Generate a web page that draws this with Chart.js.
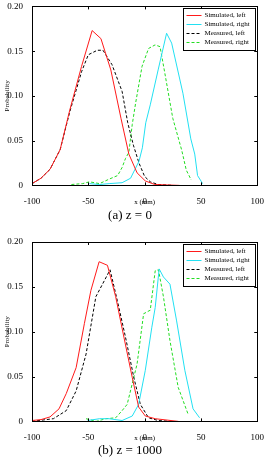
<!DOCTYPE html>
<html>
<head>
<meta charset="utf-8">
<script src="https://cdn.jsdelivr.net/npm/chart.js@4"></script>
<style>
  html, body { margin: 0; padding: 0; background: #fff; overflow: hidden; }
  .panel { position: absolute; left: 0; width: 267px; height: 228px; }
</style>
</head>
<body>
<div class="panel" style="top:0"><canvas id="chartA" width="267" height="228"></canvas></div>
<div class="panel" style="top:230px"><canvas id="chartB" width="267" height="228"></canvas></div>
<script>
// ejes compartidos
const xTicks = [-100, -50, 0, 50, 100];
const yTicks = [0, 0.05, 0.1, 0.15, 0.2];
const legendLabels = ['Simulated, left', 'Simulated, right', 'Measured, left', 'Measured, right'];

// panel (a)
const redAX = [-100, -92, -84, -75, -66.5, -56, -46.6, -38.8, -30, -21, -14, -6.7, 0.6, 9, 20, 31];
const redAY = [0.002, 0.008, 0.018, 0.040, 0.084, 0.133, 0.173, 0.164, 0.129, 0.075, 0.035, 0.014, 0.005, 0.001, 0.0005, 0];
const cyanAX = [-49, -40, -31.5, -20, -12.5, -5, -2, 1, 5, 12, 19.5, 24, 34, 41, 44.5, 47, 51.5];
const cyanAY = [0.002, 0.001, 0.002, 0.003, 0.008, 0.027, 0.042, 0.07, 0.09, 0.129, 0.170, 0.159, 0.103, 0.052, 0.035, 0.011, 0.002];
const blackAX = [-100, -92, -84, -75, -66.5, -56, -50, -42, -37, -29, -20, -15, -10, -5, 0, 5, 12, 25];
const blackAY = [0.002, 0.008, 0.018, 0.040, 0.082, 0.127, 0.146, 0.151, 0.151, 0.135, 0.105, 0.07, 0.045, 0.025, 0.01, 0.004, 0.001, 0];
const greenAX = [-65, -55, -49, -40, -31.5, -24, -20, -17, -14, -11, -8, -2.3, 3.5, 9.3, 13.7, 18, 25, 33, 37, 41.4];
const greenAY = [0.001, 0.002, 0.004, 0.002, 0.007, 0.011, 0.02, 0.03, 0.037, 0.068, 0.092, 0.133, 0.153, 0.157, 0.155, 0.125, 0.075, 0.039, 0.017, 0.006];

// panel (b)
const redBX = [-100, -92, -84, -76, -69.6, -60.8, -53.5, -47.7, -40.4, -33, -25.7, -18.4, -11, -5.3, 0.6, 9.4, 30];
const redBY = [0.001, 0.002, 0.005, 0.014, 0.031, 0.060, 0.109, 0.146, 0.178, 0.174, 0.139, 0.094, 0.049, 0.016, 0.006, 0.003, 0];
const cyanBX = [-50.6, -40, -31.6, -20, -11, -5.3, 0.6, 6.4, 9.4, 12.9, 16.7, 22.5, 28.4, 35.7, 43, 48.8];
const cyanBY = [0.001, 0.003, 0.003, 0.001, 0.006, 0.019, 0.057, 0.105, 0.127, 0.170, 0.161, 0.153, 0.112, 0.057, 0.014, 0.004];
const blackBX = [-100, -81, -69.6, -60.8, -52, -43.3, -37.4, -30.7, -24.3, -17, -9.6, -3.8, 3.5, 12, 24];
const blackBY = [0, 0.003, 0.012, 0.034, 0.075, 0.139, 0.153, 0.169, 0.135, 0.094, 0.049, 0.019, 0.004, 0.001, 0];
const greenBX = [-52, -43, -34.5, -25.7, -20, -15.5, -11, -6.7, -0.9, 5, 9.4, 12.3, 16.7, 22.5, 29.8, 38.6];
const greenBY = [0.003, 0, 0.003, 0.004, 0.012, 0.019, 0.042, 0.064, 0.12, 0.124, 0.168, 0.169, 0.139, 0.090, 0.038, 0.008];

Chart.defaults.font.family = '"Liberation Serif", "DejaVu Serif", serif';
Chart.defaults.color = '#000';

const pts = (xs, ys) => xs.map((x, i) => ({ x: x, y: ys[i] }));

/* Marco estilo MATLAB: caja, marcas hacia dentro y leyenda dentro del área */
const matlabBox = {
  id: 'matlabBox',
  afterDraw(chart) {
    const { ctx, chartArea: a, scales } = chart;
    ctx.save();
    ctx.strokeStyle = '#000';
    ctx.lineWidth = 1;
    ctx.strokeRect(Math.round(a.left) + 0.5, Math.round(a.top) + 0.5, Math.round(a.width), Math.round(a.height));
    ctx.beginPath();
    xTicks.forEach(v => {
      const px = Math.round(scales.x.getPixelForValue(v)) + 0.5;
      ctx.moveTo(px, a.bottom); ctx.lineTo(px, a.bottom - 3);
      ctx.moveTo(px, a.top); ctx.lineTo(px, a.top + 3);
    });
    yTicks.forEach(v => {
      const py = Math.round(scales.y.getPixelForValue(v)) + 0.5;
      ctx.moveTo(a.left, py); ctx.lineTo(a.left + 3, py);
      ctx.moveTo(a.right, py); ctx.lineTo(a.right - 3, py);
    });
    ctx.stroke();

    // leyenda
    const w = 72, h = 42;
    const bx = Math.round(a.right - w - 2) + 0.5, by = Math.round(a.top + 2) + 0.5;
    ctx.fillStyle = '#fff';
    ctx.fillRect(bx, by, w, h);
    ctx.strokeRect(bx, by, w, h);
    ctx.font = '7px "Liberation Serif", serif';
    ctx.textBaseline = 'middle';
    chart.data.datasets.forEach((ds, i) => {
      const y = by + 7 + i * 9;
      ctx.beginPath();
      ctx.strokeStyle = ds.borderColor;
      ctx.setLineDash(ds.borderDash || []);
      ctx.moveTo(bx + 3, y); ctx.lineTo(bx + 18, y);
      ctx.stroke();
      ctx.setLineDash([]);
      ctx.fillStyle = '#000';
      ctx.fillText(ds.label, bx + 21, y);
    });
    ctx.restore();
  }
};

function makePanel(id, series, title, padTop, titlePad) {
  const colors = ['#ff1a1a', '#22e0f2', '#000000', '#22dd22'];
  const dashes = [[], [], [3, 2], [3, 2]];
  return new Chart(document.getElementById(id), {
    type: 'line',
    data: {
      datasets: series.map((s, i) => ({
        label: legendLabels[i],
        data: pts(s[0], s[1]),
        borderColor: colors[i],
        borderDash: dashes[i],
        borderWidth: 1,
        pointRadius: 0,
        tension: 0,
        fill: false
      }))
    },
    options: {
      responsive: false,
      animation: false,
      layout: { padding: { top: padTop, right: 7, left: 0, bottom: 0 } },
      scales: {
        x: {
          type: 'linear', min: -100, max: 100,
          afterBuildTicks: s => { s.ticks = xTicks.map(v => ({ value: v })); },
          afterFit: s => { s.height = 21; },
          grid: { display: false },
          border: { display: false },
          ticks: { font: { size: 9 }, padding: 3, maxRotation: 0 },
          title: { display: true, text: 'x (mm)', font: { size: 7 }, padding: 0 }
        },
        y: {
          type: 'linear', min: 0, max: 0.2,
          afterBuildTicks: s => { s.ticks = yTicks.map(v => ({ value: v })); },
          afterFit: s => { s.width = 32; },
          grid: { display: false },
          border: { display: false },
          ticks: { font: { size: 9 }, padding: 1 },
          title: { display: true, text: 'Probability', font: { size: 7 }, padding: 3 }
        }
      },
      plugins: {
        legend: { display: false },
        tooltip: { enabled: false },
        title: { display: true, position: 'bottom', text: title, font: { size: 13, weight: 'normal' }, padding: titlePad }
      }
    },
    plugins: [matlabBox]
  });
}

makePanel('chartA', [[redAX, redAY], [cyanAX, cyanAY], [blackAX, blackAY], [greenAX, greenAY]], '(a) z = 0', 6, { top: 1, bottom: 5 });
makePanel('chartB', [[redBX, redBY], [cyanBX, cyanBY], [blackBX, blackBY], [greenBX, greenBY]], '(b) z = 1000', 12, { top: 0, bottom: 0 });
</script>
</body>
</html>
